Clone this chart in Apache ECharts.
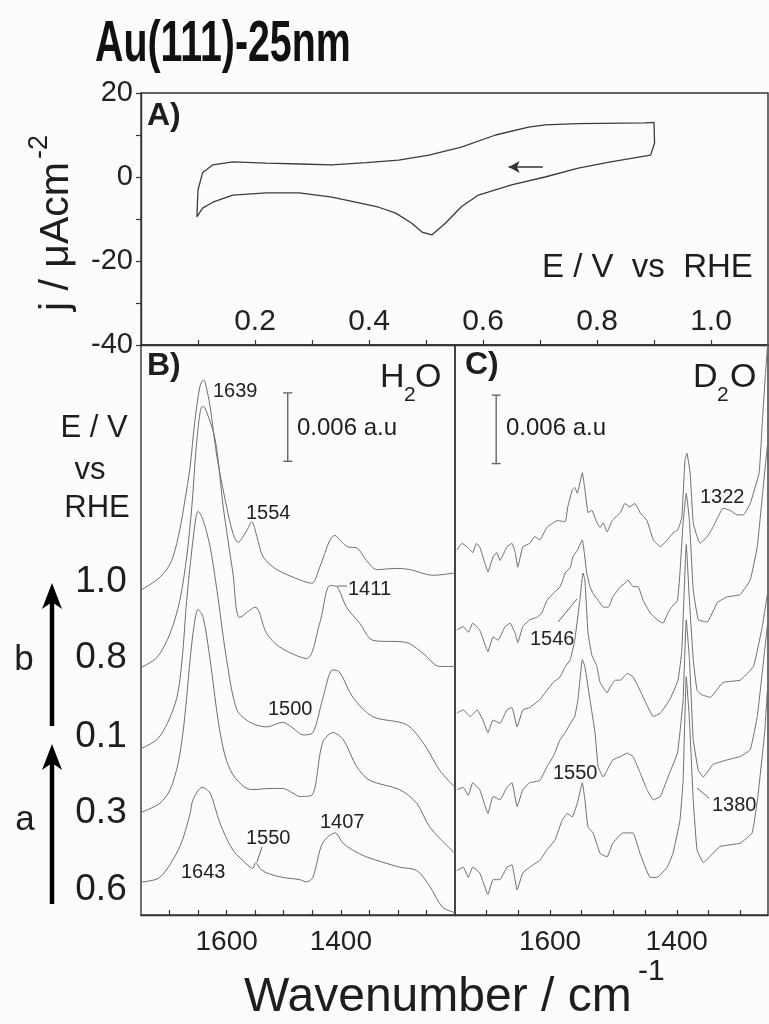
<!DOCTYPE html>
<html><head><meta charset="utf-8">
<script src="https://cdn.jsdelivr.net/npm/echarts@6/dist/echarts.min.js"></script>
<style>html,body{margin:0;padding:0;background:#fdfbfd;}#c{width:769px;height:1024px;}</style>
</head><body><div id="c"></div>
<script>
// ---------- DATA ----------
// Panel A: cyclic voltammogram (E / V vs RHE, j / uA cm^-2)
const cvPotential = [0.098,0.100,0.108,0.126,0.161,0.220,0.278,0.335,0.395,0.452,0.505,0.562,0.622,0.680,0.709,0.767,0.884,0.900,0.901,0.894,0.824,0.767,0.709,0.650,0.592,0.562,0.534,0.510,0.493,0.475,0.447,0.417,0.395,0.335,0.278,0.220,0.161,0.126,0.108,0.098];
const cvCurrent   = [-9.5,-3.1,1.0,2.9,3.6,3.3,3.1,2.9,3.4,4.0,5.2,7.1,10.0,11.9,12.4,12.7,12.9,13.0,8.1,5.2,3.6,2.1,0.0,-1.9,-4.3,-7.1,-11.0,-13.8,-13.1,-11.0,-8.6,-7.2,-6.5,-4.8,-3.8,-3.8,-4.3,-6.0,-7.4,-9.5];
const cvScanArrow = [[0.705,2.4],[0.645,2.4]];
const cvXTicks = [0.1,0.2,0.3,0.4,0.5,0.6,0.7,0.8,0.9,1.0];
const cvXLabels = [0.2,0.4,0.6,0.8,1.0];
const cvYTicks = [-40,-30,-20,-10,0,10,20];
const cvYLabels = [-40,-20,0,20];

// Panel B: H2O spectra [wavenumber, absorbance x1000 incl. offset]
const h2o_10 = [[1750,28.5],[1722,29.4],[1705,30.3],[1694,31.4],[1682,33.8],[1673,36.4],[1664,39.3],[1656,43.2],[1647,46.3],[1641,46.9],[1638,46.8],[1629,44.6],[1617,40.2],[1600,35.8],[1589,33.5],[1580,32.7],[1564,33.8],[1556,34.5],[1547,33.2],[1536,31.4],[1512,30.3],[1472,29.4],[1451,29.1],[1437,30.5],[1419,32.9],[1410,33.3],[1402,32.9],[1388,32.3],[1372,32.2],[1355,31.1],[1337,30.3],[1302,30.4],[1279,30.3],[1239,29.8],[1200,30.0]];
const h2o_08 = [[1750,21.7],[1722,22.6],[1699,24.7],[1682,27.6],[1670,31.4],[1661,35.8],[1652,41.7],[1643,44.6],[1638,44.5],[1620,41.7],[1606,35.8],[1589,30.0],[1577,26.1],[1550,27.0],[1530,24.7],[1507,23.5],[1460,22.5],[1437,25.6],[1419,28.9],[1407,28.8],[1390,27.0],[1367,25.6],[1344,24.1],[1285,23.9],[1257,23.0],[1227,21.8],[1200,21.8]];
const h2o_01 = [[1750,14.6],[1722,15.4],[1704,16.8],[1687,19.1],[1678,22.4],[1670,27.6],[1661,32.0],[1654,34.8],[1650,35.4],[1641,34.6],[1629,32.3],[1617,28.5],[1600,22.4],[1582,18.0],[1559,16.9],[1530,16.5],[1502,16.9],[1484,16.4],[1466,15.8],[1449,16.0],[1432,18.9],[1414,21.5],[1402,21.3],[1379,19.1],[1344,17.4],[1285,16.7],[1253,14.9],[1227,12.7],[1200,11.2]];
const h2o_03 = [[1750,9.0],[1717,9.8],[1699,11.0],[1685,13.3],[1676,16.2],[1670,19.1],[1664,22.4],[1657,25.4],[1650,26.8],[1641,26.1],[1629,22.4],[1615,17.1],[1603,14.0],[1589,12.3],[1568,11.2],[1554,11.0],[1524,11.1],[1502,11.1],[1484,10.7],[1472,10.4],[1451,10.5],[1432,15.1],[1414,16.0],[1396,15.4],[1372,13.0],[1349,11.8],[1297,11.0],[1267,9.8],[1244,7.7],[1200,5.4]];
const h2o_06 = [[1750,2.9],[1717,3.3],[1682,6.0],[1664,8.9],[1659,10.1],[1643,11.2],[1629,10.7],[1612,8.1],[1589,5.7],[1559,4.2],[1554,4.1],[1549,4.6],[1542,4.1],[1530,3.7],[1502,3.3],[1472,3.1],[1460,2.9],[1449,3.3],[1432,6.3],[1410,7.2],[1396,6.3],[1379,5.7],[1355,5.1],[1297,4.2],[1267,3.9],[1244,2.5],[1222,0.7],[1200,0.2]];

// Panel C: D2O spectra
const d2o_10 = [[1747,32.0],[1739,32.6],[1731,32.3],[1722,31.8],[1716,32.6],[1711,32.3],[1703,30.9],[1698,30.1],[1690,31.4],[1684,31.8],[1679,31.1],[1668,32.3],[1660,32.6],[1655,31.8],[1651,30.5],[1643,32.3],[1632,32.6],[1624,33.2],[1616,32.9],[1605,34.0],[1589,34.6],[1576,34.5],[1572,35.8],[1565,37.3],[1561,37.5],[1557,37.0],[1549,38.8],[1545,37.3],[1540,35.3],[1534,35.5],[1526,34.4],[1521,34.0],[1516,34.4],[1510,33.6],[1502,34.6],[1489,35.3],[1482,36.1],[1474,35.8],[1466,36.1],[1458,35.3],[1447,34.6],[1437,32.9],[1426,32.3],[1415,32.9],[1406,33.5],[1398,33.8],[1392,34.9],[1387,39.9],[1384,40.5],[1379,38.8],[1374,34.4],[1368,33.2],[1363,32.6],[1352,33.2],[1343,34.0],[1335,34.9],[1327,35.7],[1316,35.5],[1305,35.1],[1295,35.1],[1284,36.1],[1270,38.8],[1265,43.2],[1260,47.5],[1256,50.4]];
const d2o_08 = [[1747,25.0],[1737,25.3],[1729,24.8],[1722,25.6],[1711,25.0],[1698,23.1],[1690,24.4],[1682,24.1],[1671,25.3],[1663,25.6],[1655,24.7],[1651,23.9],[1643,25.3],[1632,25.9],[1621,26.1],[1613,26.5],[1605,27.6],[1595,28.2],[1584,28.8],[1576,30.0],[1568,30.5],[1564,31.4],[1557,32.0],[1549,32.9],[1546,31.8],[1542,30.0],[1537,28.8],[1532,28.2],[1524,27.6],[1516,27.0],[1508,27.0],[1501,27.9],[1489,28.8],[1482,29.1],[1477,29.4],[1469,28.8],[1461,28.8],[1453,27.6],[1442,26.5],[1431,25.9],[1422,25.6],[1411,26.8],[1399,27.6],[1395,30.0],[1390,34.4],[1385,37.0],[1380,34.6],[1374,28.5],[1366,25.9],[1352,25.7],[1336,27.4],[1321,27.9],[1300,28.1],[1284,29.4],[1273,32.3],[1264,37.3],[1256,41.7]];
const d2o_01 = [[1747,17.7],[1737,18.0],[1726,17.4],[1715,18.0],[1706,17.1],[1698,16.0],[1690,17.1],[1679,16.8],[1668,18.0],[1660,18.2],[1652,16.5],[1643,18.0],[1632,18.2],[1616,18.9],[1605,19.7],[1595,20.4],[1584,20.9],[1576,21.8],[1568,22.4],[1561,24.1],[1553,27.6],[1548,30.0],[1545,29.4],[1540,24.7],[1534,22.8],[1526,21.8],[1521,20.4],[1510,19.5],[1505,20.0],[1497,20.6],[1489,20.6],[1478,21.2],[1469,20.9],[1458,19.7],[1447,18.4],[1437,17.4],[1426,17.7],[1411,18.9],[1398,20.6],[1392,23.2],[1385,32.5],[1380,27.6],[1374,22.4],[1368,19.7],[1360,19.3],[1347,19.1],[1327,20.4],[1300,20.6],[1279,21.8],[1265,25.3],[1256,28.5]];
const d2o_03 = [[1747,11.0],[1737,11.2],[1729,10.5],[1722,11.6],[1711,11.0],[1698,8.9],[1690,10.4],[1679,10.1],[1668,11.2],[1660,11.6],[1652,9.5],[1643,11.0],[1632,11.6],[1616,11.8],[1605,13.0],[1595,13.9],[1584,15.4],[1576,16.0],[1568,16.8],[1561,17.4],[1556,18.9],[1549,22.4],[1545,21.8],[1537,18.9],[1529,16.0],[1524,13.0],[1516,12.1],[1510,12.7],[1501,13.6],[1489,13.9],[1478,14.2],[1469,13.9],[1458,12.5],[1447,11.0],[1437,10.1],[1426,10.4],[1411,12.5],[1399,14.2],[1395,16.0],[1390,18.9],[1385,25.9],[1380,22.4],[1374,15.4],[1366,12.7],[1358,12.1],[1343,13.2],[1321,13.6],[1300,13.9],[1284,14.5],[1273,17.4],[1264,21.8],[1256,25.9]];
const d2o_06 = [[1747,3.9],[1737,4.2],[1729,3.3],[1722,4.2],[1711,3.7],[1698,1.8],[1690,3.1],[1679,3.1],[1668,4.2],[1660,4.4],[1652,2.2],[1643,3.7],[1632,4.2],[1616,4.8],[1605,5.7],[1592,6.6],[1581,8.3],[1573,8.9],[1565,8.6],[1557,9.8],[1549,11.6],[1545,10.1],[1540,7.7],[1532,7.2],[1521,5.4],[1510,5.1],[1501,6.3],[1485,7.2],[1469,7.2],[1458,5.4],[1442,3.3],[1431,3.3],[1415,4.2],[1406,5.4],[1395,8.3],[1390,11.8],[1385,20.9],[1380,17.1],[1374,10.1],[1368,5.7],[1358,4.6],[1332,6.0],[1300,6.3],[1281,7.2],[1272,10.4],[1261,16.2],[1256,20.6]];

const scaleBarH2O = [[1493,39.8],[1493,45.8]];
const scaleBarD2O = [[1685,39.6],[1685,45.6]];
const wnTicks = [1250,1300,1350,1400,1450,1500,1550,1600,1650,1700];
const wnLabels = [1400,1600];
const potentialLabels = ['1.0','0.8','0.1','0.3','0.6'];

// ---------- CHART ----------
const FF = '"Liberation Sans", Arial, Helvetica, sans-serif';
const AX = '#333';
const SPEC = '#6f6f6f';
const chart = echarts.init(document.getElementById('c'), null, {renderer:'canvas'});

function specSeries(data, xi, smooth){
  return {type:'line', xAxisIndex:xi, yAxisIndex:xi, data:data, showSymbol:false, smooth:smooth,
    lineStyle:{color:SPEC, width:1}, silent:true, z:3};
}
function barSeries(data, xi){
  return {type:'line', xAxisIndex:xi, yAxisIndex:xi, data:data, symbol:'rect', symbolSize:[9,1.4], showSymbol:true,
    lineStyle:{color:'#666', width:1.4}, itemStyle:{color:'#666'}, silent:true};
}
function wnAxis(gi, min){
  return {gridIndex:gi, type:'value', inverse:true, min:min, max:1750,
    axisLine:{show:true, onZero:false, lineStyle:{color:AX, width:1.4}},
    axisTick:{show:true, inside:true, length:5, customValues:wnTicks.filter(v=>v>min), lineStyle:{color:AX, width:1.2}},
    axisLabel:{show:true, customValues:wnLabels, fontSize:28, fontFamily:FF, color:'#222', margin:13, formatter:v=>String(v)},
    splitLine:{show:false}};
}
function T(text, x, y, size, opt){
  opt = opt || {};
  return {type:'text', x:x, y:y, silent:true, z:20, scaleX:opt.sx||1,
    style:{text:text, x:0, y:0, fontSize:size, fontFamily:FF, fontWeight:opt.bold?'bold':'normal',
      fill:opt.color||'#1e1e1e', align:opt.align||'left', verticalAlign:'middle'}};
}
function L(pts, w, c){
  return {type:'polyline', silent:true, z:20, shape:{points:pts}, style:{stroke:c||'#555', lineWidth:w||1, fill:null}};
}

const graphics = [
  T('Au(111)-25nm', 95, 45, 57, {bold:true, sx:0.69, color:'#111'}),
  T('A)', 147, 116, 32, {bold:true}),
  T('B)', 147, 366, 32, {bold:true}),
  T('C)', 465, 365, 32, {bold:true}),
  T('E / V  vs  RHE', 542, 268, 33),
  // H2O / D2O
  T('H', 380, 378, 34), T('2', 404, 395, 21), T('O', 415, 378, 34),
  T('D', 693, 378, 34), T('2', 717, 395, 21), T('O', 730, 378, 34),
  T('0.006 a.u', 297, 428, 24), T('0.006 a.u', 506, 428, 24),
  // peak labels B
  T('1639', 213, 391, 20, {color:'#222'}),
  T('1554', 246, 513, 20, {color:'#222'}),
  T('1411', 348, 589, 20, {color:'#222'}),
  T('1500', 268, 709, 20, {color:'#222'}),
  T('1407', 320, 822, 20, {color:'#222'}),
  T('1550', 246, 838, 20, {color:'#222'}),
  T('1643', 181, 872, 20, {color:'#222'}),
  // peak labels C
  T('1322', 700, 497, 20, {color:'#222'}),
  T('1546', 530, 639, 20, {color:'#222'}),
  T('1550', 553, 773, 20, {color:'#222'}),
  T('1380', 712, 805, 20, {color:'#222'}),
  // leader lines
  L([[337,586],[347,586]], 1, '#666'),
  L([[262,847],[257,862]], 1, '#666'),
  L([[558,622],[577,599]], 1, '#666'),
  L([[697,788],[709,798]], 1, '#666'),
  // left legend
  T('E / V', 94, 428, 31, {align:'center'}),
  T('vs', 90, 470, 31, {align:'center'}),
  T('RHE', 97, 508, 31, {align:'center'}),
  T('b', 24, 660, 35, {align:'center'}),
  T('a', 25, 820, 35, {align:'center'}),
  // arrows
  L([[52,726],[52,600]], 4.5, '#000'),
  {type:'polygon', silent:true, z:20, shape:{points:[[52,583],[42,609],[52,602],[62,609]]}, style:{fill:'#000'}},
  L([[52,904],[52,762]], 4.5, '#000'),
  {type:'polygon', silent:true, z:20, shape:{points:[[52,744],[42,770],[52,763],[62,770]]}, style:{fill:'#000'}},
  // y axis name of A
  {type:'group', x:57, y:311, rotation:Math.PI/2, silent:true, z:20, children:[
    {type:'text', style:{text:'j / \u03bcAcm', x:0, y:0, fontSize:41, fontFamily:FF, fill:'#1e1e1e', align:'left', verticalAlign:'middle'}},
    {type:'text', style:{text:'-2', x:152, y:-17, fontSize:27, fontFamily:FF, fill:'#1e1e1e', align:'left', verticalAlign:'middle'}}
  ]},
  // x axis name
  T('Wavenumber / cm', 244, 998, 48),
  T('-1', 638, 972, 30)
];
const yPot = [582, 658, 737, 813, 890];
potentialLabels.forEach((t,i)=>graphics.push(T(t, 101, yPot[i], 37, {align:'center'})));

const option = {
  animation:false,
  backgroundColor:'#fdfbfd',
  grid:[
    {left:141, top:93, width:627, height:252, show:true, borderColor:AX, borderWidth:1.4, backgroundColor:'transparent'},
    {left:141, top:345, width:314, height:570, show:true, borderColor:AX, borderWidth:1.4, backgroundColor:'transparent'},
    {left:455, top:345, width:313, height:570, show:true, borderColor:AX, borderWidth:1.4, backgroundColor:'transparent'}
  ],
  xAxis:[
    {gridIndex:0, type:'value', min:0, max:1.1,
      axisLine:{show:true, onZero:false, lineStyle:{color:AX, width:1.4}},
      axisTick:{show:true, inside:true, length:5, customValues:cvXTicks, lineStyle:{color:AX, width:1.2}},
      axisLabel:{show:true, inside:true, customValues:cvXLabels, fontSize:30, fontFamily:FF, color:'#222', margin:8,
        formatter:v=>v.toFixed(1)},
      splitLine:{show:false}},
    wnAxis(1, 1200),
    wnAxis(2, 1256)
  ],
  yAxis:[
    {gridIndex:0, type:'value', min:-40, max:20,
      axisLine:{show:true, onZero:false, lineStyle:{color:AX, width:1.4}},
      axisTick:{show:true, inside:false, length:5, customValues:cvYTicks, lineStyle:{color:AX, width:1.2}},
      axisLabel:{show:true, customValues:cvYLabels, fontSize:29, fontFamily:FF, color:'#222', margin:8},
      splitLine:{show:false}},
    {gridIndex:1, type:'value', min:0, max:50, show:false},
    {gridIndex:2, type:'value', min:0, max:50, show:false}
  ],
  series:[
    {type:'line', xAxisIndex:0, yAxisIndex:0, data:cvPotential.map((e,i)=>[e,cvCurrent[i]]), showSymbol:false,
      lineStyle:{color:'#3c3c3c', width:1.3}, silent:true,
      markLine:{silent:true, symbol:['none','arrow'], symbolSize:[9,11],
        lineStyle:{color:'#333', type:'solid', width:1.5}, label:{show:false},
        data:[[{coord:cvScanArrow[0]},{coord:cvScanArrow[1]}]]}},
    specSeries(h2o_10,1,0.3), specSeries(h2o_08,1,0.3), specSeries(h2o_01,1,0.3), specSeries(h2o_03,1,0.3), specSeries(h2o_06,1,0.3),
    specSeries(d2o_10,2,0.1), specSeries(d2o_08,2,0.1), specSeries(d2o_01,2,0.1), specSeries(d2o_03,2,0.1), specSeries(d2o_06,2,0.1),
    barSeries(scaleBarH2O,1), barSeries(scaleBarD2O,2)
  ],
  graphic:graphics
};
chart.setOption(option);
</script>
</body></html>
